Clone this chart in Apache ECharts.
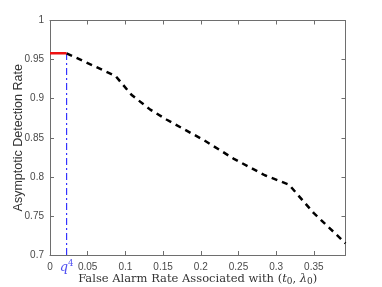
<!DOCTYPE html>
<html><head><meta charset="utf-8">
<script src="https://cdn.jsdelivr.net/npm/echarts@6/dist/echarts.min.js"></script>
<style>html,body{margin:0;padding:0;background:#fff}#c{width:382px;height:287px}</style>
</head><body><div id="c"></div>
<script>
var xTicks = [0, 0.05, 0.1, 0.15, 0.2, 0.25, 0.3, 0.35];
var yTicks = [0.7, 0.75, 0.8, 0.85, 0.9, 0.95, 1];
var qValue = 0.022;
var plateauValue = 0.958;
var falseAlarm = [0.022, 0.087, 0.108, 0.133, 0.155, 0.204, 0.244, 0.285, 0.317, 0.350, 0.392];
var detection  = [0.958, 0.929, 0.905, 0.886, 0.873, 0.847, 0.823, 0.802, 0.790, 0.7535, 0.715];
var plateauX = [0, qValue];

var chart = echarts.init(document.getElementById('c'), null, {renderer:'canvas'});
var axisCol = '#6e6e6e';
var lblCol = '#4a4a4a';
function fmt(v){ return String(Math.round(v*100)/100); }
var common = {
  axisLine:{show:true, onZero:false, lineStyle:{color:axisCol, width:1}},
  axisTick:{show:true, inside:true, length:4, lineStyle:{color:axisCol}},
  splitLine:{show:false}
};
chart.setOption({
  animation:false,
  grid:{left:50, right:36.5, top:20.5, bottom:32, containLabel:false, outerBoundsMode:'none'},
  xAxis:[
    Object.assign({type:'value', min:0, max:0.392, interval:0.05, position:'bottom',
      axisLabel:{color:lblCol, fontSize:10, fontFamily:'Liberation Sans', margin:7, formatter:fmt, showMaxLabel:false},
      name:'{n|False Alarm Rate Associated with (}{i|t}{s|0}{n|, }{i|λ}{s|0}{n|)}',
      nameLocation:'middle', nameGap:18, nameMoveOverlap:false,
      nameTextStyle:{rich:{
        n:{fontFamily:'DejaVu Serif', fontSize:11.5, color:'#333'},
        i:{fontFamily:'DejaVu Serif', fontStyle:'italic', fontSize:11.5, color:'#333'},
        s:{fontFamily:'DejaVu Serif', fontSize:9, color:'#333', verticalAlign:'bottom', padding:[4,0,0,0]}
      }}
    }, common),
    Object.assign({type:'value', min:0, max:0.392, interval:0.05, position:'top',
      axisLabel:{show:false}}, common)
  ],
  yAxis:[
    Object.assign({type:'value', min:0.7, max:1, interval:0.05, position:'left',
      axisLabel:{color:lblCol, fontSize:10, fontFamily:'Liberation Sans', margin:6, formatter:fmt},
      name:'Asymptotic Detection Rate', nameLocation:'middle', nameGap:25, nameMoveOverlap:false,
      nameTextStyle:{fontFamily:'Liberation Sans', fontSize:12.5, color:'#333'}
    }, common),
    Object.assign({type:'value', min:0.7, max:1, interval:0.05, position:'right',
      axisLabel:{show:false}}, common)
  ],
  series:[
    {type:'line', xAxisIndex:0, yAxisIndex:0, symbol:'none', z:3,
      data:[[qValue, 0.7],[qValue, plateauValue]],
      color:'#3333ff', itemStyle:{color:'#3333ff'},
      lineStyle:{color:'#3333ff', width:1.2, type:[7,3,2,3]}},
    {type:'line', xAxisIndex:0, yAxisIndex:0, symbol:'none',
      data:falseAlarm.map(function(x,i){return [x, detection[i]];}),
      color:'#000',
      lineStyle:{color:'#000', width:2.5, type:[6,5]}},
    {type:'line', xAxisIndex:0, yAxisIndex:0, symbol:'none',
      data:plateauX.map(function(x){return [x, plateauValue];}),
      color:'#ee1111',
      lineStyle:{color:'#ee1111', width:2.5}},
    {type:'scatter', xAxisIndex:0, yAxisIndex:0, symbolSize:0, silent:true,
      data:[[qValue, 0.7]],
      label:{show:true, position:'bottom', distance:4,
        formatter:'{q|q}{p|4}',
        rich:{
          q:{fontFamily:'DejaVu Serif', fontStyle:'italic', fontSize:13, color:'#2222ee'},
          p:{fontFamily:'DejaVu Serif', fontSize:8.5, color:'#2222ee', verticalAlign:'top', padding:[0,0,8,0]}
        }}}
  ]
});
</script></body></html>
